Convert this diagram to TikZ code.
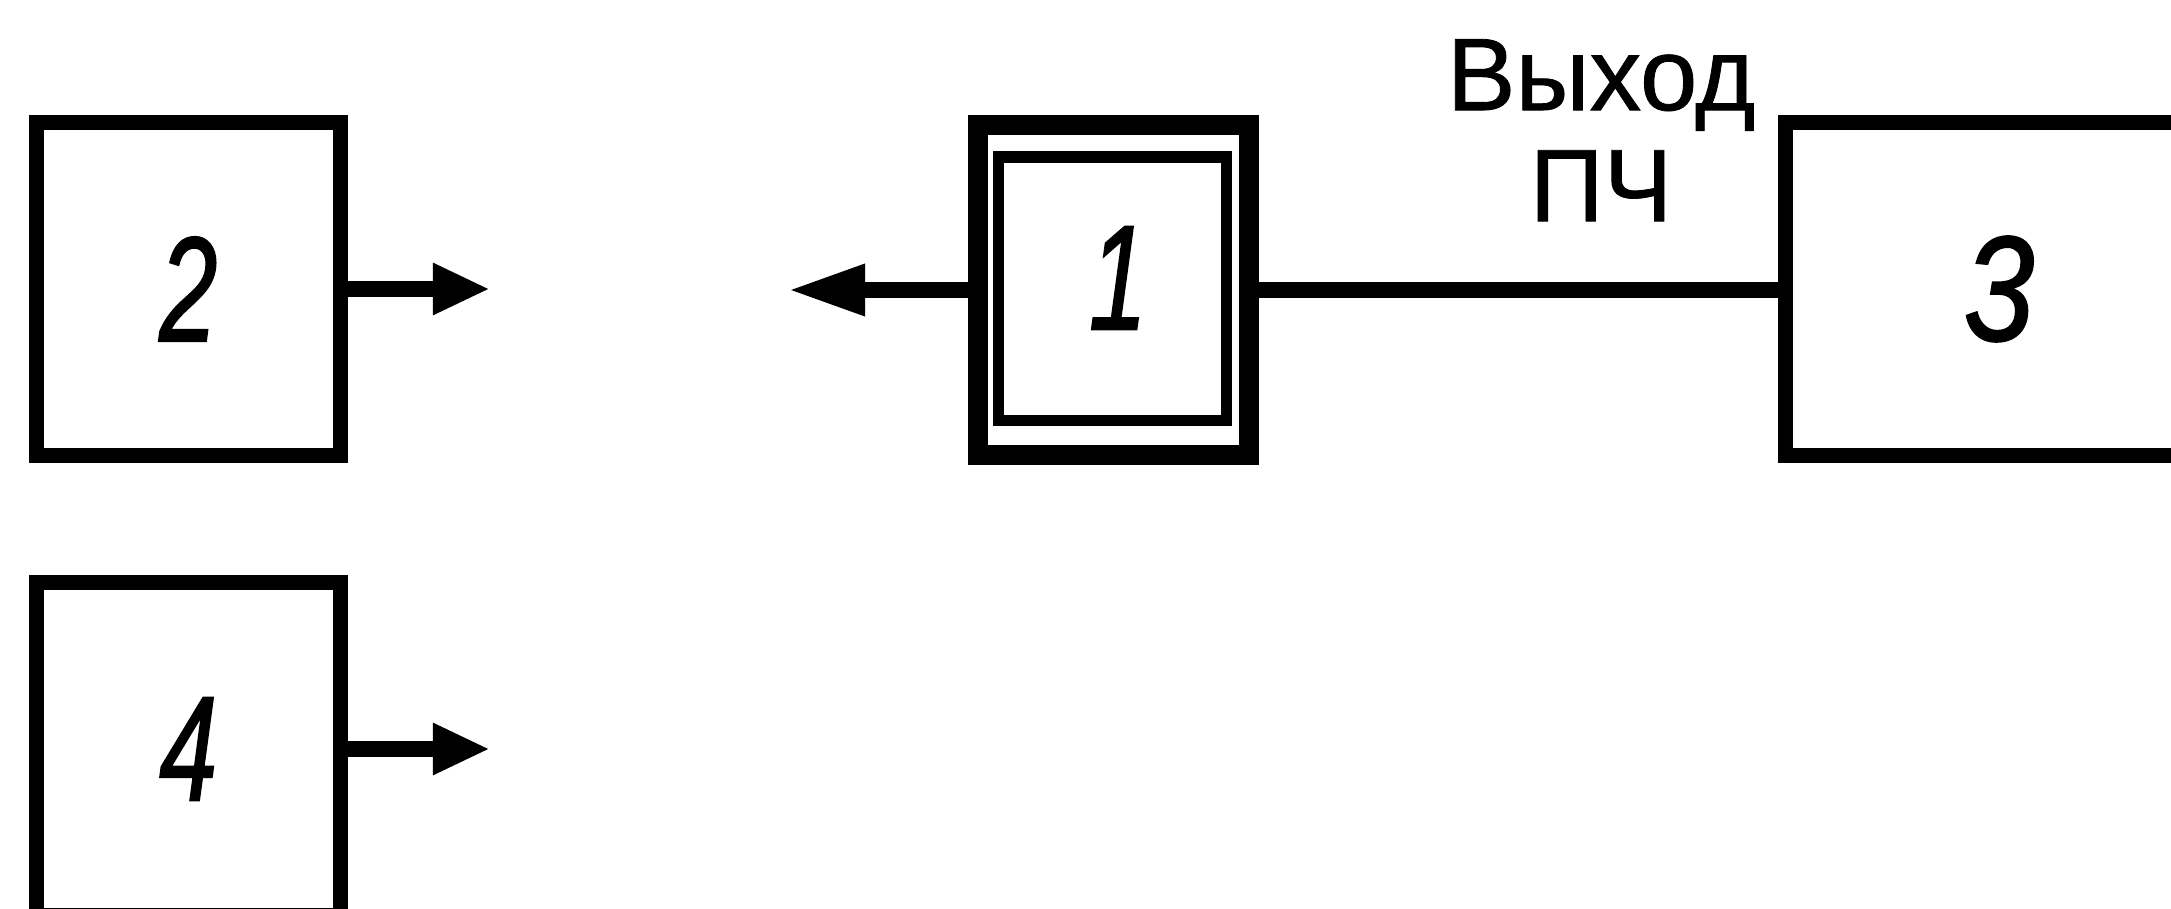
\documentclass[tikz,border=0pt]{standalone}
\usepackage{graphicx}
\usepackage{fontspec}
\setmainfont{Liberation Sans}
\newfontfamily\dgfont[FakeBold=1.4]{Liberation Sans Italic}
\newfontfamily\lblfont[FakeBold=0.8]{Liberation Sans}
\usetikzlibrary{arrows.meta}
\newcommand{\dg}[2][0.7]{\scalebox{#1}[1]{#2}}
\begin{document}
\begin{tikzpicture}[x=0.01cm,y=-0.01cm,
  blk/.style={draw, line width=0.15cm, inner sep=0, minimum width=3.033cm, minimum height=3.32cm,
    font=\fontsize{42.4}{50}\dgfont},
  digit/.style={inner sep=0, font=\fontsize{42.4}{50}\dgfont},
  conn/.style={line width=0.155cm},
  rtip/.style={-{Triangle[length=0.57cm,width=0.48cm]}},
  ltip/.style={-{Triangle[length=0.77cm,width=0.48cm]}}]
\useasboundingbox (0,0) rectangle (2171,909);
\clip (0,0) rectangle (2171,909);
\node[blk] (b2) at (188.3,289) {\dg{2}};
\node[blk, minimum width=4.27cm] (b3) at (1999,289) {\dg[0.85]{3}};
\node[blk] (b4) at (188.3,749) {\dg{4}};
\node[draw, line width=0.2cm, inner sep=0, minimum width=2.716cm, minimum height=3.305cm] (b1o) at (1113.5,290) {};
\node[draw, line width=0.115cm, inner sep=0, minimum width=2.279cm, minimum height=2.633cm] (b1i) at (1112.7,288.7) {};
\node[digit] (n1) at (1118,278) {\dg{1}};
\node[anchor=north, align=center, inner sep=0, font=\fontsize{29.3}{31.6}\lblfont] (lbl) at (1601,38.5) {Выход\\ПЧ};
\coordinate (t2) at (490,291);
\coordinate (t1) at (788,291);
\coordinate (t4) at (490,750);
\draw[conn, rtip] (b2.east) -- (b2.east -| t2);
\draw[conn, rtip] (b4.east) -- (b4.east -| t4);
\draw[conn, ltip] (b1o.west) -- (b1o.west -| t1);
\draw[conn] (b1o.east) -- (b1o.east -| b3.west);
\end{tikzpicture}
\end{document}
